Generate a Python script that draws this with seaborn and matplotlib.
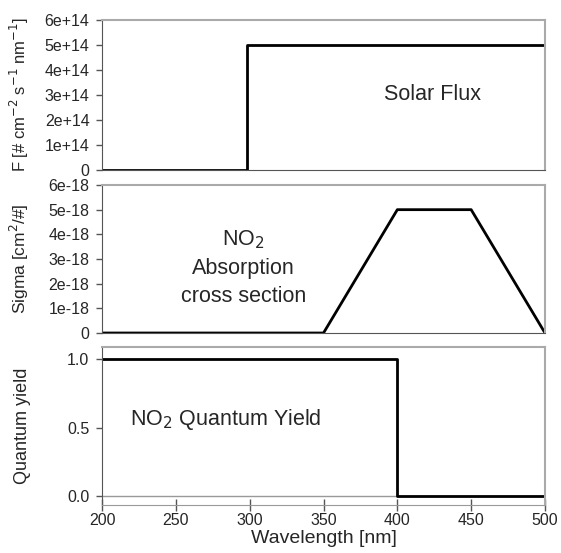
import matplotlib
matplotlib.use("Agg")
import matplotlib.pyplot as plt
import seaborn as sns
import pandas as pd

sns.set_style("white")
plt.rcParams['font.family'] = ['Liberation Sans', 'DejaVu Sans']

# Data
flux_wl = [200, 298, 298, 500]
flux_val = [0, 0, 5e14, 5e14]
sigma_wl = [200, 350, 400, 450, 500]
sigma_val = [0, 0, 5e-18, 5e-18, 0]
qy_wl = [200, 400, 400, 500]
qy_val = [1.0, 1.0, 0.0, 0.0]

flux_ticks = [0, 1e14, 2e14, 3e14, 4e14, 5e14, 6e14]
flux_ticklabels = ["0", "1e+14", "2e+14", "3e+14", "4e+14", "5e+14", "6e+14"]
sigma_ticks = [0, 1e-18, 2e-18, 3e-18, 4e-18, 5e-18, 6e-18]
sigma_ticklabels = ["0", "1e-18", "2e-18", "3e-18", "4e-18", "5e-18", "6e-18"]
qy_ticks = [0.0, 0.5, 1.0]
qy_ticklabels = ["0.0", "0.5", "1.0"]
x_ticks = [200, 250, 300, 350, 400, 450, 500]

fig = plt.figure(figsize=(5.61, 5.53), dpi=100)
left, width = 102/561, 443/561
ax1 = fig.add_axes([left, 1-170/553, width, 150/553])
ax2 = fig.add_axes([left, 1-333/553, width, 148/553])
ax3 = fig.add_axes([left, 1-505/553, width, 158/553])

sns.lineplot(x=flux_wl, y=flux_val, ax=ax1, color='black', linewidth=2, sort=False, estimator=None)
sns.lineplot(x=sigma_wl, y=sigma_val, ax=ax2, color='black', linewidth=2, sort=False, estimator=None)
sns.lineplot(x=qy_wl, y=qy_val, ax=ax3, color='black', linewidth=2, sort=False, estimator=None)

ax1.set_ylim(0, 6e14)
ax1.set_yticks(flux_ticks)
ax1.set_yticklabels(flux_ticklabels)
ax1.set_ylabel("F [# cm$^{-2}$ s$^{-1}$ nm$^{-1}$]", fontsize=12)

ax2.set_ylim(0, 6e-18)
ax2.set_yticks(sigma_ticks)
ax2.set_yticklabels(sigma_ticklabels)
ax2.set_ylabel("Sigma [cm$^2$/#]", fontsize=12.5)

ax3.set_ylim(-0.066, 1.088)
ax3.set_yticks(qy_ticks)
ax3.set_yticklabels(qy_ticklabels)
ax3.set_ylabel("Quantum yield", fontsize=13)
ax3.axhline(0, color='#999999', linewidth=1, zorder=0)

for ax in (ax1, ax2, ax3):
    ax.set_xlim(200, 500)
    ax.set_xticks(x_ticks)
    for s in ('top', 'right'):
        ax.spines[s].set_color('#aaaaaa')
        ax.spines[s].set_linewidth(1.5)
    ax.spines['left'].set_color('#555555')
    ax.spines['bottom'].set_color('#555555')
    ax.tick_params(axis='y', direction='out', length=4, width=1, color='#555555',
                   left=True, labelsize=11.5, pad=5)
    ax.yaxis.set_label_coords(-0.16, 0.5)

for ax in (ax1, ax2):
    ax.tick_params(axis='x', bottom=False, labelbottom=False)
ax3.tick_params(axis='x', direction='inout', length=8, width=1, color='#555555',
                bottom=True, labelsize=11.5, pad=2)
ax3.spines['bottom'].set_color('#999999')
ax3.set_xlabel("Wavelength [nm]", fontsize=14, labelpad=1)

ax1.text(424, 3.0e14, "Solar Flux", fontsize=15.5, ha='center', va='center')
ax2.text(296, 2.64e-18, "NO$_2$\nAbsorption\ncross section", fontsize=15.5,
         ha='center', va='center', linespacing=1.42)
ax3.text(219, 0.56, "NO$_2$ Quantum Yield", fontsize=15.5, ha='left', va='center')

fig.savefig("out.png", dpi=100)
